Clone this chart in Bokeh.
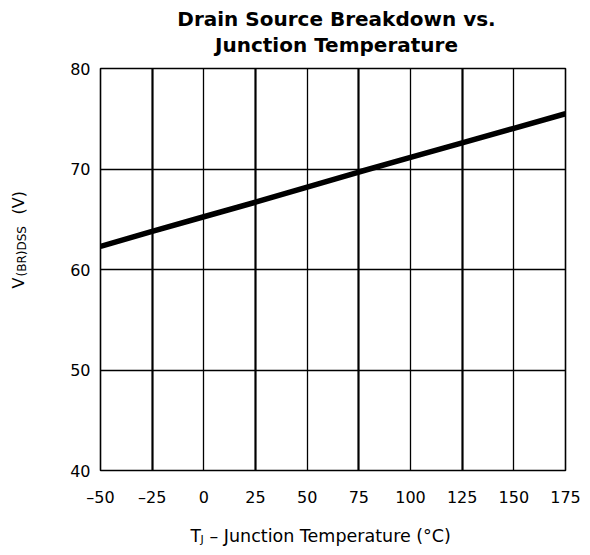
import math
from bokeh.plotting import figure
from bokeh.layouts import row, column
from bokeh.models import Range1d, Label, Grid, FixedTicker
from bokeh.embed import file_html
from bokeh.resources import INLINE

# ---- data ----
temps = [-50, -25, 0, 25, 50, 75, 100, 125, 150, 175]
vbr_dss = [62.3, 63.8, 65.25, 66.7, 68.2, 69.7, 71.15, 72.6, 74.05, 75.5]
x_ticks = [-50, -25, 0, 25, 50, 75, 100, 125, 150, 175]
y_ticks = [40, 50, 60, 70, 80]
x_grid_thin = [0, 50, 100, 150]
x_grid_thick = [-25, 25, 75, 125]
y_grid = [50, 60, 70]

FONT = "DejaVu Sans"

# overall geometry (pixels in the 590x555 page)
W, H = 590, 555
YLAB_W = 50            # left strip holding the rotated y label
TITLE_H = 60           # top strip holding the title
XLAB_H = 40            # bottom strip holding the x label
MAIN_W = W - YLAB_W
MAIN_H = H - TITLE_H - XLAB_H
FRAME_L, FRAME_R = 100, 565   # page x of the plot frame (strips are frame-aligned to it)
SHIFT = 7                     # baseline correction


def text_strip(w, h, x0, x1, ytop):
    """A blank figure whose data units equal page pixels (y measured from page top)."""
    f = figure(width=w, height=h, x_range=Range1d(x0, x1), y_range=Range1d(ytop + h, ytop),
               x_axis_location=None, y_axis_location=None,
               output_backend="svg", toolbar_location=None,
               min_border=0, min_border_left=0, min_border_right=0,
               min_border_top=0, min_border_bottom=0)
    f.outline_line_color = None
    f.xgrid.visible = False
    f.ygrid.visible = False
    f.background_fill_color = "white"
    f.border_fill_color = "white"
    return f


def put(fig, text, x, y, size, align="left", bold=False, angle=0.0):
    fig.add_layout(Label(x=x, y=y, text=text, text_font=FONT, text_font_size=size,
                         text_align=align, text_baseline="alphabetic",
                         text_font_style="bold" if bold else "normal",
                         text_color="black", angle=angle))


# ---- main chart ----
p = figure(width=MAIN_W, height=MAIN_H, x_range=Range1d(-50, 175), y_range=Range1d(40, 80),
           output_backend="svg", toolbar_location=None,
           min_border_left=FRAME_L - YLAB_W, min_border_right=W - FRAME_R,
           min_border_top=8, min_border_bottom=45)
p.background_fill_color = "white"
p.border_fill_color = "white"
p.outline_line_color = "black"
p.outline_line_width = 1.6

p.xgrid.ticker = FixedTicker(ticks=x_grid_thin)
p.xgrid.grid_line_color = "black"
p.xgrid.grid_line_width = 1.3
p.ygrid.ticker = FixedTicker(ticks=y_grid)
p.ygrid.grid_line_color = "black"
p.ygrid.grid_line_width = 1.5
p.add_layout(Grid(dimension=0, ticker=FixedTicker(ticks=x_grid_thick),
                  grid_line_color="black", grid_line_width=2.2))

for ax in (p.xaxis[0], p.yaxis[0]):
    ax.axis_line_color = None
    ax.major_tick_line_color = None
    ax.minor_tick_line_color = None
    ax.major_tick_out = 0
    ax.major_tick_in = 0
    ax.major_label_text_font = FONT
    ax.major_label_text_font_size = "16px"
    ax.major_label_text_color = "black"
p.xaxis.ticker = FixedTicker(ticks=x_ticks)
p.yaxis.ticker = FixedTicker(ticks=y_ticks)
p.xaxis.major_label_overrides = {t: str(t).replace("-", "\u2013") for t in x_ticks}
p.xaxis.major_label_standoff = 17
p.yaxis.major_label_standoff = 10

p.line(temps, vbr_dss, line_width=5.5, line_color="black")

# ---- title strip ----
title_fig = text_strip(MAIN_W, TITLE_H, FRAME_L, FRAME_R, 0)
put(title_fig, "Drain Source Breakdown vs.", 336, 25 - SHIFT, "20px", align="center", bold=True)
put(title_fig, "Junction Temperature", 336, 51 - SHIFT, "20px", align="center", bold=True)

# ---- x label strip ----
xlab_fig = text_strip(MAIN_W, XLAB_H, FRAME_L, FRAME_R, H - XLAB_H)
put(xlab_fig, "T", 190, 542 - SHIFT, "17px")
put(xlab_fig, "J", 200, 546 - SHIFT, "11px")
put(xlab_fig, "\u2013  Junction Temperature (\u00b0C)", 209, 542 - SHIFT, "17.5px")

# ---- y label strip (rotated text, reads bottom to top) ----
ylab_fig = text_strip(YLAB_W, H, 0, YLAB_W, 0)
a = math.pi / 2
put(ylab_fig, "V", 25 - SHIFT, 288, "16px", angle=a)
put(ylab_fig, "(BR)DSS", 28 - SHIFT, 276, "12px", angle=a)
put(ylab_fig, "(V)", 25 - SHIFT, 214, "16px", angle=a)

layout = row(ylab_fig, column(title_fig, p, xlab_fig, spacing=0), spacing=0)

open("out.html", "w").write(file_html(layout, INLINE))
